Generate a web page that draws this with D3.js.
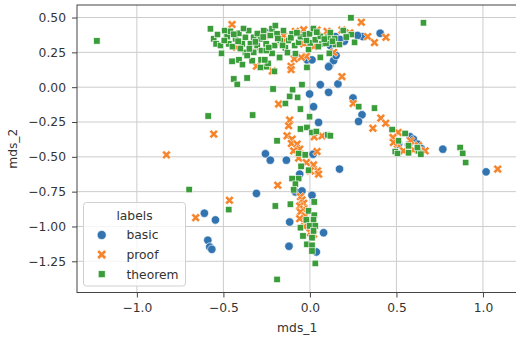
<!DOCTYPE html>
<html>
<head>
<meta charset="utf-8">
<script src="https://cdn.jsdelivr.net/npm/d3@7"></script>
<style>
  body { margin:0; background:#fff; }
  text { font-family: "DejaVu Sans", sans-serif; }
</style>
</head>
<body>
<div id="chart"></div>
<script>
// data: [mds_1, mds_2]
var labels = ["basic", "proof", "theorem"];
var colors = ["#3274b0", "#f5842a", "#3a9d3a"];

var basicPts = [[-0.61,-0.905],[-0.546,-0.953],[-0.59,-1.099],[-0.579,-1.147],[-0.567,-1.164],[-0.309,-0.763],[-0.117,-0.968],[-0.121,-1.142],[0.079,-1.045],[0.171,-0.588],[-0.257,-0.478],[-0.229,-0.524],[-0.136,-0.524],[0.018,-0.481],[-0.059,-0.624],[-0.084,-0.752],[-0.046,-0.745],[0.012,-0.776],[0.037,-1.183],[0.768,-0.445],[1.018,-0.608],[0.406,0.387],[0.306,0.363],[0.275,0.371],[0.199,0.33],[-0.017,0.196],[0.012,0.196],[0.114,0.155],[0.137,0.191],[0.151,0.227],[0.108,0.147],[0.06,0.018],[0.162,0.023],[0.108,-0.037],[-0.002,-0.049],[0.021,-0.14],[0.05,-0.253],[0.249,-0.078],[0.301,-0.198],[0.281,-0.246],[0.579,-0.356],[0.598,-0.374],[0.624,-0.409],[0.512,-0.409],[0.57,-0.414],[0.643,-0.44],[0.147,0.363],[0.175,0.342],[-0.257,0.394],[0.095,0.335],[0.118,0.299]];

var proofPts = [[-0.829,-0.486],[-0.465,-0.812],[-0.66,-0.937],[-0.186,-0.704],[1.085,-0.588],[-0.556,-0.337],[-0.45,0.45],[-0.309,0.151],[-0.217,0.116],[-0.109,0.15],[-0.109,0.126],[-0.09,0.203],[-0.021,0.222],[-0.181,-0.121],[-0.117,-0.236],[-0.123,-0.277],[-0.132,-0.349],[-0.103,-0.373],[-0.107,-0.404],[-0.074,-0.409],[-0.059,-0.445],[-0.094,-0.457],[0.025,-0.356],[0.07,-0.349],[0.041,-0.462],[-0.065,-0.509],[-0.021,-0.541],[0.021,-0.558],[0.044,-0.601],[0.002,-0.601],[0.05,-0.624],[0.185,0.076],[0.041,0.41],[0.099,0.401],[0.185,0.41],[0.137,0.25],[0.297,0.466],[0.23,0.39],[0.334,0.363],[0.373,0.32],[0.439,0.358],[-0.05,0.214],[0.021,0.291],[-0.036,0.311],[-0.257,0.371],[-0.152,0.371],[-0.084,0.401],[-0.036,0.412],[-0.425,0.286],[-0.273,0.383],[-0.158,0.322],[-0.309,0.286],[0.25,-0.117],[0.41,-0.222],[0.438,-0.259],[0.364,-0.295],[0.51,-0.325],[0.48,-0.361],[0.582,-0.385],[0.506,-0.409],[0.627,-0.421],[0.541,-0.457],[0.598,-0.45],[0.666,-0.457],[0.483,-0.397],[-0.055,-0.786],[-0.046,-0.809],[-0.036,-0.833],[-0.059,-0.853],[-0.036,-0.876],[-0.055,-0.896],[-0.027,-0.924],[-0.059,-0.944],[-0.017,-0.973],[-0.032,-1.001],[0.002,-1.045],[0.021,-1.056]];

var theoremPts = [[-1.231,0.332],[-0.698,-0.735],[-0.469,-0.879],[-0.588,-0.207],[-0.331,-0.2],[-0.19,-1.38],[0.237,0.498],[0.656,0.462],[0.868,-0.433],[0.883,-0.475],[0.9,-0.541],
[-0.44,0.059],[-0.42,0.02],[-0.363,0.066],[-0.45,0.186],[-0.41,0.196],[-0.39,0.162],[-0.334,0.19],[-0.282,0.196],[-0.252,0.147],[-0.205,0.114],[-0.177,0.21],[-0.213,-0.013],[-0.1,-0.018],[-0.117,-0.066],[-0.071,-0.073],[-0.142,-0.117],[-0.055,-0.157],[-0.055,-0.3],[-0.017,-0.289],[-0.002,-0.212],[0.012,-0.325],[0.037,-0.318],[0.102,-0.342],[-0.19,-0.385],[-0.065,-0.476],[-0.027,-0.486],[-0.051,-0.568],[-0.008,-0.596],[0.06,0.214],[-0.008,0.27],[-0.017,0.142],[-0.046,0.018],[0.282,-0.14],[0.373,-0.15],[0.118,-0.349],
[0.475,-0.304],[0.55,-0.332],[0.512,-0.385],[0.57,-0.421],[0.493,-0.462],[0.506,-0.476],[0.57,-0.471],[0.627,-0.457],[0.641,-0.481],[0.621,-0.433],
[-0.103,-0.656],[-0.065,-0.656],[-0.084,-0.696],[-0.094,-0.737],[0.025,-0.824],[-0.113,-0.84],[-0.2,-0.853],[-0.008,-0.888],[0.025,-0.919],[-0.021,-0.953],[0.021,-0.953],[-0.055,-1.009],[-0.002,-0.996],[0.031,-0.996],[0.021,-1.032],[-0.04,-1.068],[0.012,-1.081],[-0.017,-1.128],[0.012,-1.135],[0.012,-1.176],[0.031,-1.265],
[-0.575,0.419],[-0.556,0.347],[-0.542,0.311],[-0.517,0.299],[-0.511,0.243],[-0.492,0.406],[-0.478,0.363],[-0.469,0.311],[-0.459,0.401],[-0.43,0.347],[-0.411,0.387],[-0.392,0.311],[-0.373,0.358],[-0.354,0.406],[-0.344,0.311],[-0.325,0.358],[-0.305,0.299],[-0.286,0.347],[-0.267,0.406],[-0.253,0.311],[-0.229,0.371],[-0.219,0.419],[-0.2,0.442],[-0.19,0.383],[-0.204,0.299],[-0.171,0.335],[-0.142,0.282],[-0.123,0.335],[-0.103,0.383],[-0.088,0.299],[-0.065,0.322],[-0.05,0.358],[-0.373,0.25],[-0.363,0.227],[-0.325,0.25],[-0.28,0.263],[-0.242,0.171],[-0.261,0.196],[-0.286,0.142],[-0.219,0.243],[-0.175,0.214],[-0.055,0.363],[-0.027,0.378],[-0.002,0.383],[0.002,0.318],[0.031,0.34],[0.06,0.365],[0.07,0.311],[0.093,0.315],[0.104,0.358],[0.143,0.347],[0.147,0.306],[0.171,0.306],[0.112,0.243],[0.239,0.378],[0.258,0.322],
[-0.534,0.378],[-0.448,0.291],[-0.402,0.277],[-0.384,0.421],[-0.304,0.385],[-0.252,0.263],[-0.153,0.406],[-0.13,0.248],[-0.084,0.241],[0.02,0.421],[0.048,0.291],[0.118,0.392],[0.193,0.406],
[-0.495,0.335],[-0.44,0.38],[-0.415,0.33],[-0.35,0.275],[-0.315,0.325],[-0.27,0.36],[-0.238,0.285],[-0.185,0.35],[-0.158,0.3],[-0.11,0.355],[-0.075,0.39],[-0.02,0.335],[0.04,0.395],[0.083,0.345],[0.13,0.33],[0.21,0.36]];

var xTicks = [-1.0, -0.5, 0.0, 0.5, 1.0];
var yTicks = [-1.25, -1.00, -0.75, -0.50, -0.25, 0.00, 0.25, 0.50];

function draw(){
    var W = 516, H = 338;
    var mLeft = 77, mRight = 517.4, mTop = 5, mBottom = 292.5;

    var svg = d3.select("#chart").append("svg").attr("width", W).attr("height", H);

    var x = d3.scaleLinear().domain([-1.346, 1.199]).range([mLeft, mRight]);
    var y = d3.scaleLinear().domain([-1.474, 0.59]).range([mBottom, mTop]);

    //GRID
    var grid = svg.append("g");
    grid.selectAll(".gx").data(xTicks).enter().append("line")
        .attr("x1", d => x(d)).attr("x2", d => x(d)).attr("y1", mTop).attr("y2", mBottom)
        .style("stroke", "#cccccc").style("stroke-width", 1);
    grid.selectAll(".gy").data(yTicks).enter().append("line")
        .attr("x1", mLeft).attr("x2", mRight).attr("y1", d => y(d)).attr("y2", d => y(d))
        .style("stroke", "#cccccc").style("stroke-width", 1);

    //AXES
    var xAxis = svg.append("g").attr("transform", "translate(0," + mBottom + ")")
        .call(d3.axisBottom(x).tickValues(xTicks).tickFormat(d3.format(".1f")).tickSize(5).tickPadding(6).tickSizeOuter(0));
    var yAxis = svg.append("g").attr("transform", "translate(" + mLeft + ",0)")
        .call(d3.axisLeft(y).tickValues(yTicks).tickFormat(d3.format(".2f")).tickSize(5).tickPadding(6).tickSizeOuter(0));
    [xAxis, yAxis].forEach(function(a){
        a.select(".domain").remove();
        a.selectAll("line").style("stroke", "#444");
        a.selectAll("text").style("font-family", "DejaVu Sans").style("font-size", "12.3px").style("fill", "#333");
    });

    // frame (spines)
    svg.append("rect").attr("x", mLeft).attr("y", mTop).attr("width", mRight - mLeft).attr("height", mBottom - mTop)
        .style("fill", "none").style("stroke", "#444").style("stroke-width", 1);

    //MARKERS
    function xPath(L, w) {
        // plus shape rotated 45 degrees
        var pts = [[w,-w],[w,-L],[-w,-L],[-w,-w],[-L,-w],[-L,w],[-w,w],[-w,L],[w,L],[w,w],[L,w],[L,-w]];
        var c = Math.SQRT1_2;
        return "M" + pts.map(p => [(p[0]-p[1])*c, (p[0]+p[1])*c].map(v => v.toFixed(2)).join(",")).join("L") + "Z";
    }
    function drawMarker(g, kind, color, size) {
        if (kind === 0) {
            g.append("circle").attr("r", 4.2*size).style("fill", color);
        } else if (kind === 1) {
            g.append("path").attr("d", xPath(4.8*size, 1.5*size)).style("fill", color);
        } else {
            g.append("rect").attr("x", -3.2*size).attr("y", -3.2*size).attr("width", 6.4*size).attr("height", 6.4*size).style("fill", color);
        }
        g.selectAll("*").style("stroke", "#fff").style("stroke-width", 0.6);
    }

    var plot = svg.append("g");
    [basicPts, proofPts, theoremPts].forEach(function(pts, k){
        pts.forEach(function(p){
            var g = plot.append("g").attr("transform", "translate(" + x(p[0]) + "," + y(p[1]) + ")");
            drawMarker(g, k, colors[k], 1);
        });
    });

    //LABELS
    svg.append("text").attr("x", (mLeft + mRight) / 2).attr("y", 331.5).attr("text-anchor", "middle")
        .style("font-size", "12.3px").style("fill", "#333").text("mds_1");
    svg.append("text").attr("transform", "translate(17," + ((mTop + mBottom) / 2) + ") rotate(-90)")
        .attr("text-anchor", "middle").style("font-size", "12.3px").style("fill", "#333").text("mds_2");

    //LEGEND
    var lg = svg.append("g");
    lg.append("rect").attr("x", 83.5).attr("y", 202.5).attr("width", 102).attr("height", 83.5).attr("rx", 3)
        .style("fill", "#fff").style("fill-opacity", 0.8).style("stroke", "#d0d0d0").style("stroke-width", 1);
    lg.append("text").attr("x", 134.5).attr("y", 219.5).attr("text-anchor", "middle")
        .style("font-size", "12.3px").style("fill", "#333").text("labels");
    labels.forEach(function(l, i){
        var cy = 235 + i * 19.6;
        var g = lg.append("g").attr("transform", "translate(101.7," + cy + ")");
        drawMarker(g, i, colors[i], 1.08);
        lg.append("text").attr("x", 126.5).attr("y", cy + 4.4).style("font-size", "12.3px").style("fill", "#333").text(l);
    });
}
draw();
</script>
</body>
</html>
